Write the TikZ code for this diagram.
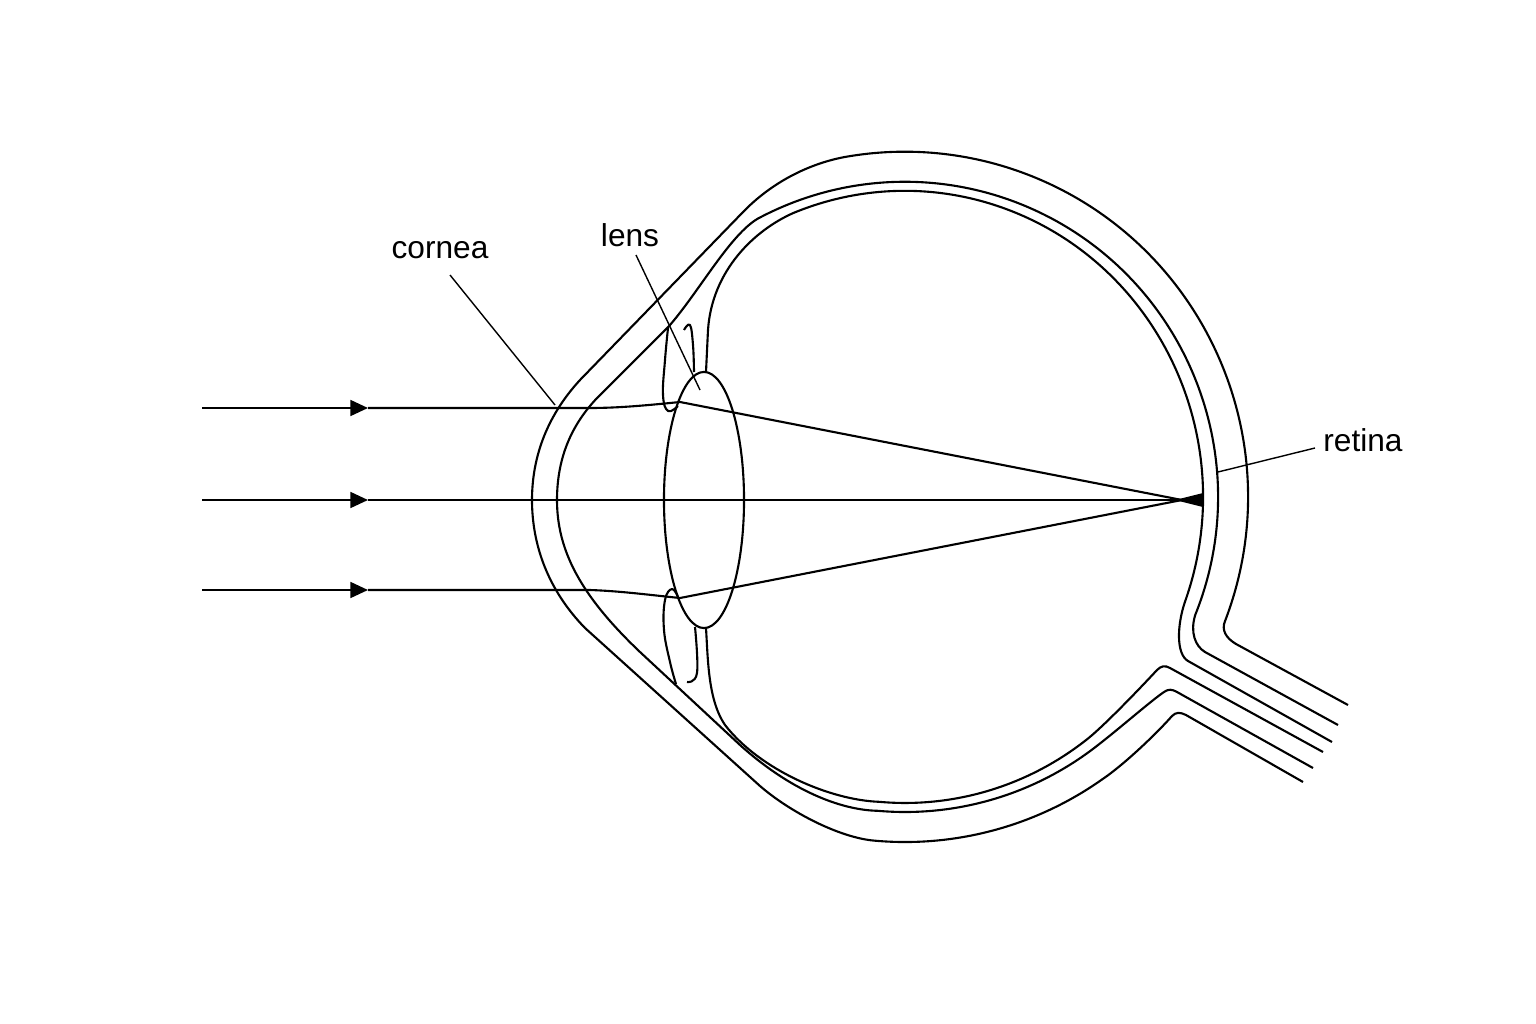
\documentclass[tikz,border=0pt]{standalone}
\usepackage{fontspec}
\setmainfont{Liberation Sans}
\usetikzlibrary{arrows.meta,shapes.geometric}
\begin{document}
\begin{tikzpicture}
	[	x=0.01cm,y=-0.01cm,line width=0.6pt,
	eye/.style={draw=black,line width=0.6pt,line join=round},
	ray/.style={draw=black,line width=0.6pt},
	tip/.style={-{Triangle[length=5pt,width=4.5pt]}},
	leader/.style={draw=black,line width=0.4pt},
	plain/.style={draw=none,fill=none,font=\fontsize{9}{11}\selectfont,inner sep=1pt}
	]
	\useasboundingbox (0,0) rectangle (1536,1024);
	% outer coat
	\draw[eye] (1348,705) -- (1236,644) .. controls (1226,638) and (1221,630) .. (1225.2,620.6)
		arc[start angle=-21,end angle=100,x radius=3.43cm,y radius=3.45cm]
		.. controls (812,163) and (775,180) .. (745,210) -- (580,380)
		.. controls (545,418) and (532,460) .. (532,500)
		.. controls (532,545) and (548,590) .. (585,628) -- (760,786)
		.. controls (790,812) and (840,838) .. (875.1,840.7)
		arc[start angle=-95,end angle=-55,x radius=3.43cm,y radius=3.45cm]
		.. controls (1125,764) and (1158,732) .. (1172,716) .. controls (1176,712) and (1180,712) .. (1186,715) -- (1303,782);
	% middle coat
	\draw[eye] (1338,725) -- (1205,652) .. controls (1195,646) and (1190,632) .. (1195.2,615)
		arc[start angle=-22,end angle=118,x radius=3.13cm,y radius=3.15cm]
		.. controls (730,235) and (700,290) .. (670,325) -- (600,395)
		.. controls (570,425) and (557,460) .. (557,500)
		.. controls (557,550) and (580,595) .. (640,652) -- (740,745)
		.. controls (790,790) and (840,810) .. (877.7,810.8)
		arc[start angle=-95,end angle=-52,x radius=3.13cm,y radius=3.15cm]
		.. controls (1120,728) and (1152,700) .. (1164,692) .. controls (1168,689) and (1172,689) .. (1177,692) -- (1313,768);
	% retina
	\draw[eye] (1332,742) -- (1188,661) .. controls (1176,654) and (1177,625) .. (1185,601.7)
		arc[start angle=-20,end angle=112,x radius=2.98cm,y radius=3.06cm]
		.. controls (755,230) and (712,270) .. (708,330) -- (706,372);
	\draw[eye] (706,628) .. controls (708,660) and (708,700) .. (725,725)
		.. controls (760,770) and (830,800) .. (879.0,801.8)
		arc[start angle=-95,end angle=-52,x radius=2.98cm,y radius=3.06cm]
		.. controls (1107,723) and (1145,683) .. (1157,670) .. controls (1161,666) and (1165,665) .. (1170,668) -- (1323,752);
	% lens and iris
	\node[eye,ellipse,minimum width=0.8cm,minimum height=2.56cm,inner sep=0pt] (lens) at (704,500) {};
	\draw[eye] plot[smooth,tension=0.7] coordinates {(668,328) (665,360) (663,395) (668,411) (678,406)};
	\draw[eye] plot[smooth,tension=0.7] coordinates {(684,330) (690,325) (693,345) (694,372)};
	\draw[eye] plot[smooth,tension=0.7] coordinates {(678,597) (672,589) (665,600) (664,630) (670,662) (676,684)};
	\draw[eye] plot[smooth,tension=0.7] coordinates {(695,627) (697,673) (687,682)};
	% rays
	\coordinate (a1) at (202,408); \coordinate (b1) at (368,408);
	\coordinate (a2) at (202,500); \coordinate (b2) at (368,500);
	\coordinate (a3) at (202,590); \coordinate (b3) at (368,590);
	\coordinate (focus) at (1182,500);
	\draw[ray,tip] (a1) -- (b1);
	\draw[ray,tip] (a2) -- (b2);
	\draw[ray,tip] (a3) -- (b3);
	\draw[ray] (b1) -- (590,408) .. controls (620,408) and (650,405) .. (680,402) -- (focus);
	\draw[ray] (b2) -- (1200,500);
	\draw[ray] (b3) -- (590,590) .. controls (620,591) and (650,595) .. (680,598) -- (focus);
	\fill (1175,500) -- (1203,493) -- (1203,507) -- cycle;
	% labels
	\node[plain] (cornea) at (440,250) {cornea};
	\node[plain] (lenslbl) at (630,235) {lens};
	\node[plain] (retina) at (1363,440) {retina};
	\coordinate (cpt) at (555,405);
	\coordinate (lpt) at (700,390);
	\coordinate (rpt) at (1218,472);
	\draw[leader] (450,275) -- (cpt);
	\draw[leader] (636,255) -- (lpt);
	\draw[leader] (1315,448) -- (rpt);
\end{tikzpicture}
\end{document}
